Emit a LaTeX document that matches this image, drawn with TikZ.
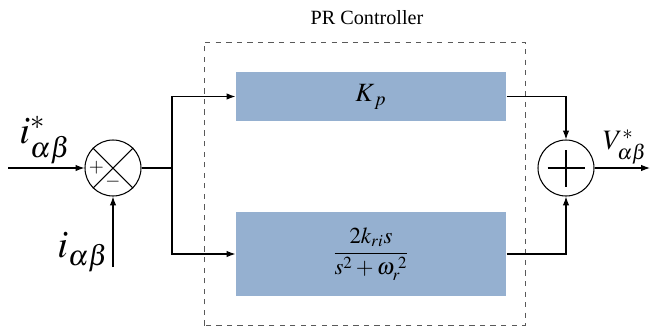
\documentclass[tikz,border=0pt]{standalone}
\usepackage{amsmath}
\usepackage{mathptmx}
\usepackage{fontspec}
\setmainfont{Liberation Serif}
\usepackage{xcolor}
\usetikzlibrary{arrows.meta, calc, positioning}

\definecolor{blkfill}{RGB}{149,176,208}
\tikzset{
  blk/.style={fill=blkfill, draw=none, minimum width=5.4cm, inner sep=0pt},
  sumc/.style={circle, draw, minimum size=1.12cm, inner sep=0pt},
  frame/.style={dashed, gray!70!black, line width=0.5pt}
}

\begin{document}
\begin{tikzpicture}[>={Latex[length=5pt,width=3.6pt]}, line width=0.6pt]
        \useasboundingbox (0,0) rectangle (13.08,6.54);

        % PR-Regler Rahmen
        \draw[frame] (4.08,0.03) rectangle (10.5,5.7);
        \node (title) at (7.34,6.18) {\fontsize{11.5}{13}\selectfont PR Controller};

        % Bloecke
        \node[blk, minimum height=0.98cm] (kp) at (7.42,4.61) {\fontsize{15}{17}\selectfont $K_{\,p}$};
        \node[blk, minimum height=1.68cm] (res) at (7.42,1.46)
              {\fontsize{13}{15}\selectfont $\dfrac{2k_{ri}s}{s^2+\omega_{r}^{\;2}}$};

        % Summierer
        \node[sumc] (s1) at (2.26,3.18) {};
        \node[sumc] (s2) at (11.32,3.18) {};
        \draw (s1.north west) -- (s1.south east) (s1.north east) -- (s1.south west);
        \draw ([xshift=-0.37cm]s2.center) -- ([xshift=0.37cm]s2.center)
              ([yshift=-0.37cm]s2.center) -- ([yshift=0.37cm]s2.center);
        \node (plus) at ($(s1.center)+(-0.33,0)$) {\fontsize{11}{12}\selectfont $+$};
        \node (minus) at ($(s1.center)+(0,-0.28)$) {\fontsize{11}{12}\selectfont $-$};

        % Ein- und Ausgaenge
        \coordinate (in) at (0.16,3.18);
        \coordinate (fb) at (2.26,1.2);
        \coordinate (split) at (3.44,3.18);
        \coordinate (out) at (13.0,3.18);

        \draw[->] (in) -- (s1.west);
        \draw[->] (fb) -- (s1.south);
        \draw (s1.east) -- (split);
        \draw[->] (split) |- (kp.west);
        \draw[->] (split) |- (res.west);
        \draw[->] (kp.east) -| (s2.north);
        \draw[->] (res.east) -| (s2.south);
        \draw[->] (s2.east) -- (out);

        % Beschriftungen
        \node (iref) at (0.9,3.74) {\fontsize{22}{24}\selectfont $i^*_{\alpha\beta}$};
        \node[anchor=east] (imeas) at (2.3,1.5) {\fontsize{22}{24}\selectfont $i_{\alpha\beta}$};
        \node (vref) at (12.5,3.6) {\fontsize{16}{18}\selectfont $V^*_{\alpha\beta}$};
\end{tikzpicture}
\end{document}
